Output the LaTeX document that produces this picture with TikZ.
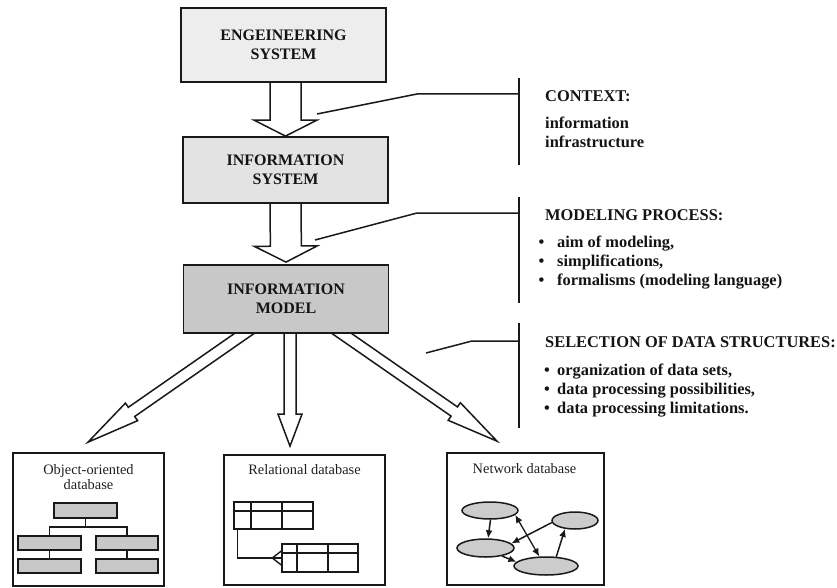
\documentclass[tikz,border=0pt]{standalone}
\usepackage{fontspec}
\setmainfont{Liberation Serif}
\usetikzlibrary{calc,arrows.meta,backgrounds,shapes.geometric}
\definecolor{engfill}{HTML}{EDEDED}
\definecolor{sysfill}{HTML}{E3E3E3}
\definecolor{modfill}{HTML}{C8C8C8}
\definecolor{objfill}{HTML}{C8C8C8}
\definecolor{ellfill}{HTML}{CCCCCC}
\newcommand\myfatarrow[5]{%
  \coordinate (fahead) at ($(#2)!#5!(#1)$);
  \draw[fatarrowstyle] ($(#1)!#3!90:(#2)$) -- ($(fahead)!#3!90:(#2)$) -- ($(fahead)!#4!90:(#2)$) -- (#2) -- ($(fahead)!#4!-90:(#2)$) -- ($(fahead)!#3!-90:(#2)$) -- ($(#1)!#3!-90:(#2)$);
}
\begin{document}
\begin{tikzpicture}[x=1pt,y=-1pt,
  bigbox/.style={draw=black!90, line width=1.8pt, inner sep=0pt, align=center, minimum width=205pt, font=\fontsize{16}{19}\selectfont\bfseries, text=black!92},
  dbbox/.style={draw=black!90, line width=1.7pt, inner sep=0pt},
  dbtitle/.style={inner sep=0pt, align=center, font=\fontsize{14.4}{15}\selectfont, text=black!88},
  fatarrowstyle/.style={draw=black!90, line width=1.5pt, fill=white, line join=miter},
  bracket/.style={draw=black!90, line width=1.5pt},
  sidetext/.style={inner sep=0pt, anchor=base west, font=\fontsize{16.4}{19}\selectfont\bfseries, text=black!92},
  small/.style={draw=black!90, line width=1.4pt},
  grect/.style={draw=black!90, line width=1.4pt, fill=objfill, inner sep=0pt},
  trect/.style={draw=black!90, line width=1.4pt, inner sep=0pt},
  ell/.style={ellipse, draw=black!90, line width=1.5pt, fill=ellfill, inner sep=0pt},
  netarrow/.style={draw=black!90, line width=1.5pt, -{Latex[length=8pt,width=7pt]}},
  netdarrow/.style={draw=black!90, line width=1.3pt, {Latex[length=8pt,width=7pt]}-{Latex[length=8pt,width=7pt]}},
]
\useasboundingbox (0,0) rectangle (837,588);

% main boxes
\node[bigbox, fill=engfill, minimum height=74pt] (eng) at (283.5,45) {ENGEINEERING\\SYSTEM};
\node[bigbox, fill=sysfill, minimum height=66pt] (isys) at (285.5,170) {INFORMATION\\SYSTEM};
\node[bigbox, fill=modfill, minimum height=68pt] (imod) at (286,299) {INFORMATION\\MODEL};

% database boxes
\node[dbbox, minimum width=151pt, minimum height=133pt] (oo) at (88.5,519.5) {};
\node[dbbox, minimum width=161pt, minimum height=130pt] (rel) at (304.5,520) {};
\node[dbbox, minimum width=157pt, minimum height=132pt] (net) at (525.5,519) {};

\node[dbtitle] (ootitle) at (88.5,477) {Object-oriented\\database};
\node[dbtitle, anchor=base] (reltitle) at (304.5,474) {Relational database};
\node[dbtitle, anchor=base] (nettitle) at (524.5,473) {Network database};

% fat arrows
\coordinate (a1s) at (isys.north |- eng.south);
\coordinate (a2s) at (isys.south);
\coordinate (a2e) at ($(imod.north)+(0,-2)$);
\coordinate (a3s) at ($(imod.south)+(4,0)$);
\coordinate (a3e) at ($(rel.north)+(-14.5,-8)$);
\coordinate (a4s) at (251.6,328.4);
\coordinate (a4e) at ($(oo.north)+(-0.5,-10)$);
\coordinate (a5s) at (334.4,328.4);
\coordinate (a5e) at ($(net.north)+(-28.5,-11)$);
\begin{scope}[on background layer]
\myfatarrow{a1s}{isys.north}{15.5pt}{31.5pt}{16pt}
\myfatarrow{a2s}{a2e}{15.5pt}{31.5pt}{16pt}
\myfatarrow{a3s}{a3e}{6pt}{12pt}{32pt}
\myfatarrow{a4s}{a4e}{5.6pt}{10.7pt}{53pt}
\myfatarrow{a5s}{a5e}{5.6pt}{10.7pt}{52pt}
\end{scope}

% brackets and side texts
\coordinate (c1a) at (317,114);
\coordinate (c1b) at (417,94);
\coordinate (c1c) at (519,94);
\coordinate (c1t) at (519,78);
\coordinate (c1d) at (519,165);
\draw[bracket] (c1a) -- (c1b) -- (c1c);
\draw[bracket] (c1t) -- (c1d);

\coordinate (c2a) at (315,240);
\coordinate (c2b) at (417,213);
\coordinate (c2c) at (519,213);
\coordinate (c2t) at (519,197);
\coordinate (c2d) at (519,303);
\draw[bracket] (c2a) -- (c2b) -- (c2c);
\draw[bracket] (c2t) -- (c2d);

\coordinate (c3a) at (426,353);
\coordinate (c3b) at (472,341);
\coordinate (c3c) at (519,341);
\coordinate (c3t) at (519,323);
\coordinate (c3d) at (519,428);
\draw[bracket] (c3a) -- (c3b) -- (c3c);
\draw[bracket] (c3t) -- (c3d);

\node[sidetext] (ctxh) at (545,102) {CONTEXT:};
\node[sidetext] (ctx1) at (545,129) {information};
\node[sidetext] (ctx2) at (545,148) {infrastructure};

\node[sidetext] (modh) at (545,220) {MODELING PROCESS:};
\node[sidetext] (mod1) at (538.5,247) {\makebox[18.5pt][l]{•}aim of modeling,};
\node[sidetext] (mod2) at (538.5,266) {\makebox[18.5pt][l]{•}simplifications,};
\node[sidetext] (mod3) at (538.5,285) {\makebox[18.5pt][l]{•}formalisms (modeling language)};

\node[sidetext] (selh) at (545,347) {SELECTION OF DATA STRUCTURES:};
\node[sidetext] (sel1) at (544,375) {\makebox[13pt][l]{•}organization of data sets,};
\node[sidetext] (sel2) at (544,394) {\makebox[13pt][l]{•}data processing possibilities,};
\node[sidetext] (sel3) at (544,413) {\makebox[13pt][l]{•}data processing limitations.};

% object-oriented hierarchy
\node[grect, minimum width=63pt, minimum height=15pt] (oot) at (85.5,510.5) {};
\node[grect, minimum width=63pt, minimum height=14pt] (oo1) at (49.5,543) {};
\node[grect, minimum width=62pt, minimum height=14pt] (oo2) at (127,543) {};
\node[grect, minimum width=63pt, minimum height=14pt] (oo3) at (49.5,566) {};
\node[grect, minimum width=62pt, minimum height=14pt] (oo4) at (127,566) {};
\coordinate (ooj) at (85.5,527);
\draw[small] (oot.south) -- (ooj);
\draw[small] (oo1.north) |- (ooj) -| (oo2.north);
\draw[small] (oo1) -- (oo3);
\draw[small] (oo2) -- (oo4);

% relational tables
\node[trect, minimum width=79pt, minimum height=27pt] (t1) at (273.5,515.5) {};
\draw[small] (234,511) -- (313,511);
\draw[small] (251,502) -- (251,529);
\draw[small] (282,502) -- (282,529);
\node[trect, minimum width=76pt, minimum height=28pt] (t2) at (320,558) {};
\draw[small] (282,553) -- (358,553);
\draw[small] (297,544) -- (297,572);
\draw[small] (328,544) -- (328,572);
\coordinate (cf) at ($(t2.west)+(-9,0)$);
\draw[small] ($(t1.south west)+(4,0)$) |- (t2.west);
\draw[small] ($(t2.west)+(0,-7)$) -- (cf) -- ($(t2.west)+(0,7)$);

% network
\node[ell, minimum width=56pt, minimum height=17pt] (e1) at (490,510.5) {};
\node[ell, minimum width=46pt, minimum height=17pt] (e2) at (575,520.5) {};
\node[ell, minimum width=57pt, minimum height=18pt] (e3) at (485.5,548) {};
\node[ell, minimum width=64pt, minimum height=18pt] (e4) at (546,566) {};
\draw[netarrow] (e1.-87) -- (e3.75);
\draw[netdarrow] (e1.-10) -- (e4.125);
\draw[netarrow] (e2.185) -- (e3.10);
\draw[netarrow] (e4.42) -- (e2.220);
\draw[netarrow] (e3.-26) -- (e4.172);
\end{tikzpicture}
\end{document}
